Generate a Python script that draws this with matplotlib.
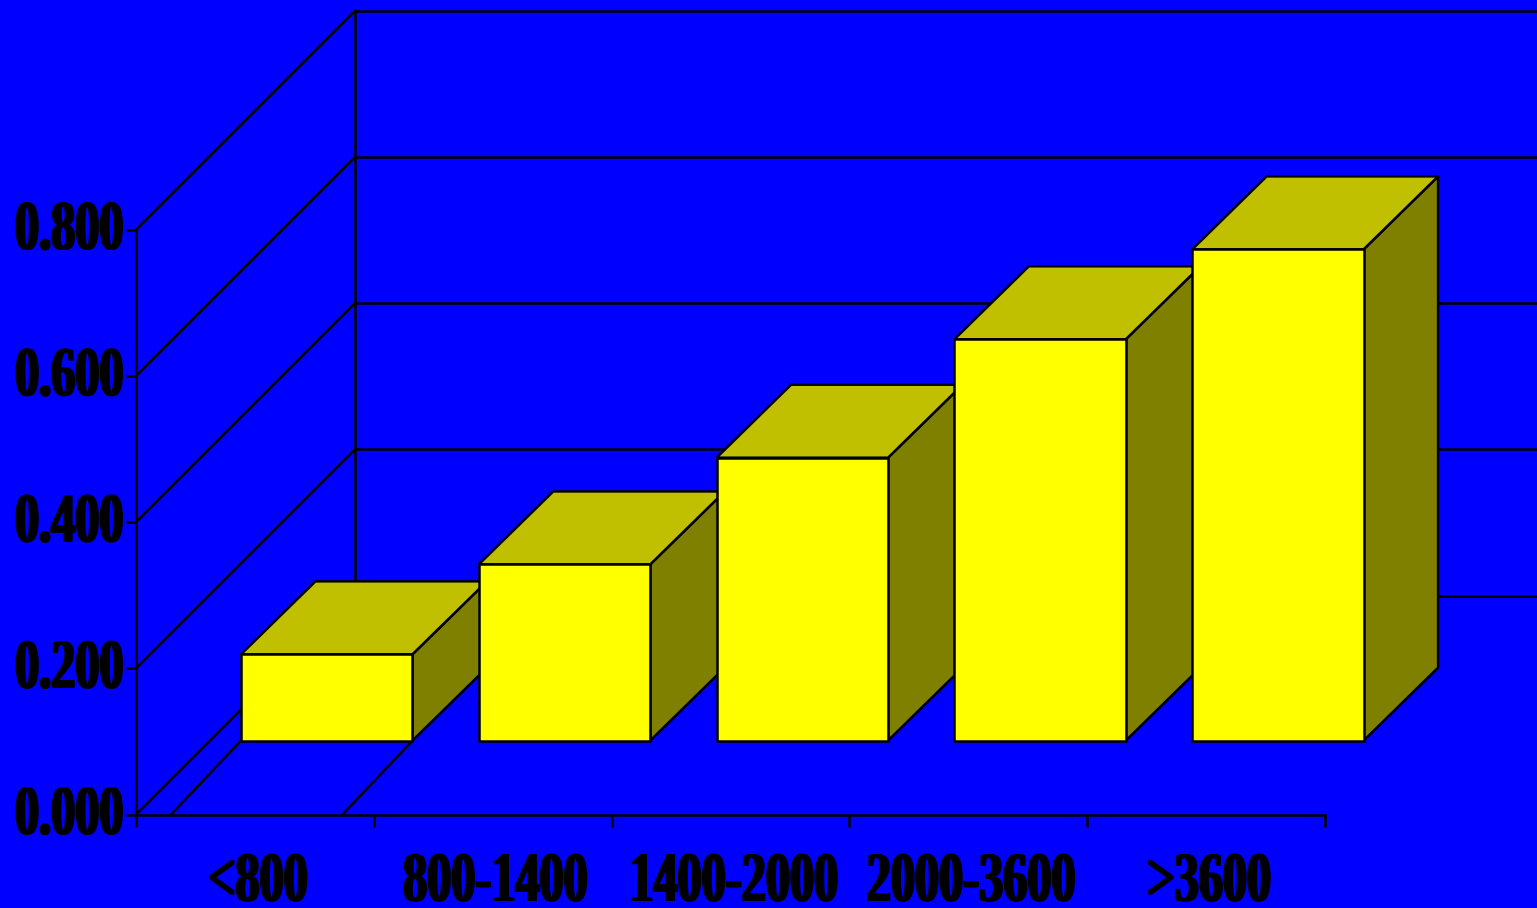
import matplotlib
matplotlib.use('Agg')
import matplotlib.pyplot as plt
from matplotlib.patches import Polygon
from matplotlib.patheffects import AbstractPathEffect
from matplotlib.transforms import Affine2D

# Dane wykresu
categories = ['<800', '800-1400', '1400-2000', '2000-3600', '>3600']
values = [0.118, 0.241, 0.387, 0.549, 0.672]
y_ticks = [0.0, 0.2, 0.4, 0.6, 0.8]

BLUE = '#0000FF'
FRONT = '#FFFF00'
TOP = '#C0C000'
SIDE = '#808000'
LW = 1.8

# Rzut pseudo-3D: przesuniecia w jednostkach osi (kategoria, wartosc)
UNIT_X = 237.8
UNIT_Y = 731.0
WALL = (219 / UNIT_X, 219 / UNIT_Y)
BAR_FRONT = (70 / UNIT_X, 74 / UNIT_Y)
BAR_BACK = (144.5 / UNIT_X, 147 / UNIT_Y)
BAR_L = 0.147
BAR_R = 0.868


class CondensedBlack(AbstractPathEffect):
    """Zweza tekst w poziomie i pogrubia pionowe kreski."""

    def __init__(self, squeeze, anchor='center', spread=(-1.5, -0.5, 0.5, 1.5), dy=0):
        super().__init__()
        self.squeeze = squeeze
        self.anchor = anchor
        self.spread = spread
        self.dy = dy

    def draw_path(self, renderer, gc, tpath, affine, rgbFace=None):
        ext = tpath.get_extents()
        px = ext.x1 if self.anchor == 'right' else (ext.x0 + ext.x1) / 2
        squeezed = Affine2D().translate(-px, 0).scale(self.squeeze, 1).translate(px, 0) + affine
        for dx in self.spread:
            renderer.draw_path(gc, tpath, squeezed + Affine2D().translate(dx, self.dy), rgbFace)


def shift(x, y, offset):
    return x + offset[0], y + offset[1]


fig = plt.figure(figsize=(15.37, 9.08), dpi=100, facecolor=BLUE)
ax = fig.add_axes([136 / 1537, (908 - 814.6) / 908, UNIT_X * 5 / 1537, 584.8 / 908])
ax.set_facecolor('none')
ax.set_xlim(0, 5)
ax.set_ylim(0, 0.8)

for name in ['top', 'right']:
    ax.spines[name].set_visible(False)
for name in ['left', 'bottom']:
    ax.spines[name].set_linewidth(LW)

# Sciany: ukosne linie siatki i poziome linie z tylu
for t in y_ticks:
    bx, by = shift(0, t, WALL)
    ax.plot([0, bx], [t, by], color='black', lw=LW, clip_on=False, zorder=1)
    ax.plot([bx, 6.5], [by, by], color='black', lw=LW, clip_on=False, zorder=1)
bx, by0 = shift(0, 0, WALL)
_, by1 = shift(0, y_ticks[-1], WALL)
ax.plot([bx, bx], [by0, by1], color='black', lw=LW, clip_on=False, zorder=1)

# Slad pierwszego slupka na podlodze
ax.plot([BAR_L, BAR_L + BAR_FRONT[0]], [0, BAR_FRONT[1]], color='black', lw=LW, zorder=2, clip_on=False)
ax.plot([BAR_R, BAR_R + BAR_FRONT[0]], [0, BAR_FRONT[1]], color='black', lw=LW, zorder=2, clip_on=False)

# Slupki od lewej do prawej, kazdy przykrywa bok poprzedniego
for i, v in enumerate(values):
    xl = i + BAR_L
    xr = i + BAR_R
    f_ll = shift(xl, 0, BAR_FRONT)
    f_lr = shift(xr, 0, BAR_FRONT)
    f_ul = shift(xl, v, BAR_FRONT)
    f_ur = shift(xr, v, BAR_FRONT)
    b_lr = shift(xr, 0, BAR_BACK)
    b_ul = shift(xl, v, BAR_BACK)
    b_ur = shift(xr, v, BAR_BACK)
    z = 3 + i
    for pts, col in [([f_lr, b_lr, b_ur, f_ur], SIDE),
                     ([f_ul, f_ur, b_ur, b_ul], TOP),
                     ([f_ll, f_lr, f_ur, f_ul], FRONT)]:
        ax.add_patch(Polygon(pts, closed=True, facecolor=col, edgecolor='black',
                             lw=LW, joinstyle='miter', clip_on=False, zorder=z))

# Osie i podpisy
ax.set_xticks(range(6))
ax.set_xticklabels([])
ax.set_yticks(y_ticks)
ax.set_yticklabels(['%.3f' % t for t in y_ticks])
ax.tick_params(axis='x', length=8.6, width=LW, direction='out')
ax.tick_params(axis='y', length=7.2, width=LW, direction='out', pad=1)
for lab in ax.get_yticklabels():
    lab.set_fontfamily('Liberation Serif')
    lab.set_fontweight('bold')
    lab.set_fontsize(51)
    lab.set_color('black')
    lab.set_verticalalignment('center')
    lab.set_path_effects([CondensedBlack(0.68, anchor='right', dy=-2)])

for i, c in enumerate(categories):
    ax.text(i + 0.5 + 3 / UNIT_X, -0.118, c, ha='center', va='baseline',
            family='Liberation Serif', weight='bold', fontsize=51, color='black',
            clip_on=False, path_effects=[CondensedBlack(0.68)])

fig.savefig('out.png', dpi=100, facecolor=BLUE)
plt.close(fig)
